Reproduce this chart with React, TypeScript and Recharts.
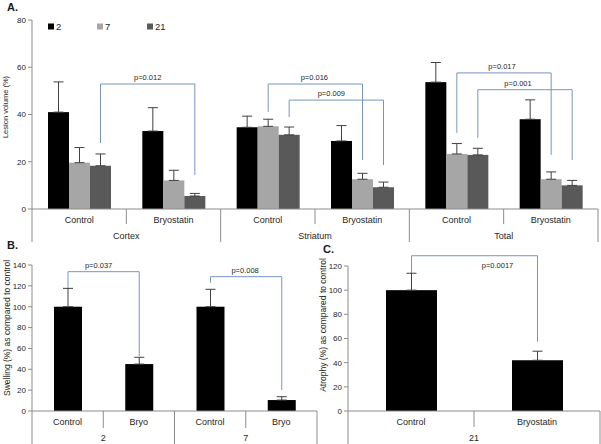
import React from 'react';
import { BarChart, Bar, XAxis, YAxis, ErrorBar } from 'recharts';

// panel A: lesion volume by region, treatment and day
const regions = ['Cortex', 'Striatum', 'Total'];
const treatA = ['Control', 'Bryostatin', 'Control', 'Bryostatin', 'Control', 'Bryostatin'];
const day2 = [41, 33, 34.6, 28.8, 53.7, 38];
const day2Err = [12.8, 9.9, 4.7, 6.5, 8.3, 8.2];
const day7 = [19.6, 12.1, 35, 12.6, 23.3, 12.6];
const day7Err = [6.4, 4.3, 3, 2.5, 4.4, 3.1];
const day21 = [18.3, 5.5, 31.4, 9.2, 22.9, 10];
const day21Err = [5, 1.1, 3.3, 2.2, 2.8, 2.1];
const lesionTicks = [0, 20, 40, 60, 80];

// panel B: swelling
const swellGroups = ['2', '7'];
const treatB = ['Control', 'Bryo', 'Control', 'Bryo'];
const swelling = [100, 45, 100, 10.5];
const swellingErr = [17.6, 6.5, 16.7, 3.2];
const swellTicks = [0, 20, 40, 60, 80, 100, 120, 140];

// panel C: atrophy
const atrophyGroups = ['21'];
const treatC = ['Control', 'Bryostatin'];
const atrophy = [100, 42];
const atrophyErr = [14, 7.5];
const atrophyTicks = [0, 20, 40, 60, 80, 100, 120];

// significance brackets (values in axis units)
const bracketsA = [
  { series: 'd21', from: 0, to: 1, start: 27.9, top: 52.9, end: 14.4, p: 'p=0.012', dx: 0 },
  { series: 'd7', from: 2, to: 3, start: 41.1, top: 52.9, end: 20.7, p: 'p=0.016', dx: -1 },
  { series: 'd21', from: 2, to: 3, start: 38.9, top: 46.1, end: 18.6, p: 'p=0.009', dx: -5 },
  { series: 'd7', from: 4, to: 5, start: 32.2, top: 57.6, end: 22.9, p: 'p=0.017', dx: -2 },
  { series: 'd21', from: 4, to: 5, start: 30.1, top: 50.5, end: 20.7, p: 'p=0.001', dx: -7 },
];
const bracketsB = [
  { series: 'v', from: 0, to: 1, start: 117, top: 133.6, end: 52.7, p: 'p=0.037', dx: -5 },
  { series: 'v', from: 2, to: 3, start: 123, top: 128.8, end: 20.1, p: 'p=0.008', dx: -1 },
];
const bracketsC = [
  { series: 'v', from: 0, to: 1, start: 102.9, top: 128.5, end: 57.4, p: 'p=0.0017', dx: 23, below: true },
];

const FONT = '"Liberation Sans", Arial, sans-serif';
const AXIS = '#8c8c8c';
const TEXT = '#262626';
const BRACKET = '#7894c4';
const COLORS = { d2: '#000000', d7: '#a6a6a6', d21: '#595959', v: '#000000' };

const dataA = treatA.map((t, i) => ({
  treat: t,
  d2: day2[i], d2e: [0, day2Err[i]],
  d7: day7[i], d7e: [0, day7Err[i]],
  d21: day21[i], d21e: [0, day21Err[i]],
}));
const dataB = treatB.map((t, i) => ({ treat: t, v: swelling[i], ve: [0, swellingErr[i]] }));
const dataC = treatC.map((t, i) => ({ treat: t, v: atrophy[i], ve: [0, atrophyErr[i]] }));

const anchors: Record<string, { cx: number; base: number; ppu: number }> = {};

function makeShape(panel: string, series: string, brackets: any[]) {
  return (props: any) => {
    const { x, y, width, height, fill, index, payload } = props;
    const v = payload ? payload[series] : 0;
    const base = y + height;
    anchors[`${panel}-${series}-${index}`] = { cx: x + width / 2, base, ppu: v ? height / v : 0 };
    const br = brackets.find((b) => b.series === series && b.to === index);
    let extra = null;
    if (br) {
      const a = anchors[`${panel}-${series}-${br.from}`];
      if (a) {
        const yOf = (val: number) => a.base - val * a.ppu;
        const x1 = a.cx;
        const x2 = x + width / 2;
        const yt = yOf(br.top);
        extra = (
          <g>
            <path
              d={`M${x1},${yOf(br.start)} V${yt} H${x2} V${yOf(br.end)}`}
              fill="none"
              stroke={BRACKET}
              strokeWidth={1}
            />
            <text
              x={(x1 + x2) / 2 + br.dx}
              y={br.below ? yt + 12 : yt - 4}
              textAnchor="middle"
              fontSize={7.5}
              fill={TEXT}
            >
              {br.p}
            </text>
          </g>
        );
      }
    }
    return (
      <g>
        <rect x={x} y={y} width={width} height={height} fill={fill} />
        {extra}
      </g>
    );
  };
}

function makeTick(groups: string[], step: number, count: number, lay: any) {
  return (props: any) => {
    const { x, y, payload } = props;
    const i = props.index ?? payload.index;
    const left = x - step / 2;
    const first = i % 2 === 0;
    return (
      <g>
        <text x={x} y={y + lay.labelY} textAnchor="middle" fontSize={9} fill={TEXT}>
          {payload.value}
        </text>
        <line x1={left} x2={left} y1={y} y2={y + (first ? lay.longY : lay.shortY)} stroke={AXIS} />
        {first && (
          <text x={x + step / 2} y={y + lay.groupY} textAnchor="middle" fontSize={9} fill={TEXT}>
            {groups[i / 2]}
          </text>
        )}
        {i === count - 1 && (
          <line x1={x + step / 2} x2={x + step / 2} y1={y} y2={y + lay.longY} stroke={AXIS} />
        )}
      </g>
    );
  };
}

function Panel({ id, data, series, groups, ticks, width, height, top, yWidth, right, axisH, barSize, brackets, lay }: any) {
  const step = (width - yWidth - right) / data.length;
  return (
    <BarChart
      width={width}
      height={height}
      data={data}
      margin={{ top, right, bottom: 0, left: 0 }}
      barGap={0}
      barSize={barSize}
    >
      <XAxis
        dataKey="treat"
        interval={0}
        height={axisH}
        tickLine={false}
        tickSize={0}
        tickMargin={0}
        axisLine={{ stroke: AXIS }}
        tick={makeTick(groups, step, data.length, lay)}
      />
      <YAxis
        width={yWidth}
        domain={[ticks[0], ticks[ticks.length - 1]]}
        ticks={ticks}
        interval={0}
        tickSize={4}
        tickMargin={2}
        axisLine={{ stroke: AXIS }}
        tickLine={{ stroke: AXIS }}
        tick={{ fontSize: 8, fill: TEXT }}
      />
      {series.map((s: string) => (
        <Bar
          key={s}
          dataKey={s}
          fill={(COLORS as any)[s]}
          isAnimationActive={false}
          shape={makeShape(id, s, brackets)}
        >
          <ErrorBar dataKey={s + 'e'} width={5} stroke="#404040" strokeWidth={1} direction="y" />
        </Bar>
      ))}
    </BarChart>
  );
}

const legendItems = [
  { key: 'd2', label: '2', x: 48 },
  { key: 'd7', label: '7', x: 97 },
  { key: 'd21', label: '21', x: 147 },
];

export default function App() {
  return (
    <div style={{ position: 'absolute', left: 0, top: 0, width: 601, height: 444, background: '#fff', fontFamily: FONT }}>
      <div style={{ position: 'absolute', left: 0, top: 0 }}>
        <Panel
          id="A"
          data={dataA}
          series={['d2', 'd7', 'd21']}
          groups={regions}
          ticks={lesionTicks}
          width={601}
          height={250}
          top={20}
          yWidth={32}
          right={3}
          axisH={41}
          barSize={21}
          brackets={bracketsA}
          lay={{ labelY: 14, groupY: 30, shortY: 15, longY: 33 }}
        />
      </div>
      <div style={{ position: 'absolute', left: 0, top: 255 }}>
        <Panel
          id="B"
          data={dataB}
          series={['v']}
          groups={swellGroups}
          ticks={swellTicks}
          width={320}
          height={189}
          top={10}
          yWidth={32}
          right={3}
          axisH={33}
          barSize={28}
          brackets={bracketsB}
          lay={{ labelY: 14, groupY: 30, shortY: 17, longY: 33 }}
        />
      </div>
      <div style={{ position: 'absolute', left: 300, top: 255 }}>
        <Panel
          id="C"
          data={dataC}
          series={['v']}
          groups={atrophyGroups}
          ticks={atrophyTicks}
          width={301}
          height={189}
          top={11}
          yWidth={48}
          right={1}
          axisH={33}
          barSize={51}
          brackets={bracketsC}
          lay={{ labelY: 14, groupY: 30, shortY: 16, longY: 33 }}
        />
      </div>
      <svg width={601} height={444} style={{ position: 'absolute', left: 0, top: 0, pointerEvents: 'none' }}>
        <text x={7} y={11} fontSize={11} fontWeight="bold" fill="#1a1a1a">A.</text>
        <text x={7} y={249} fontSize={11} fontWeight="bold" fill="#1a1a1a">B.</text>
        <text x={323} y={253} fontSize={11} fontWeight="bold" fill="#1a1a1a">C.</text>
        <text transform="translate(8,107) rotate(-90)" textAnchor="middle" fontSize={7.5} fill={TEXT}>
          Lesion volume (%)
        </text>
        <text transform="translate(9.5,328) rotate(-90)" textAnchor="middle" fontSize={8.5} fill={TEXT}>
          Swelling (%) as compared to control
        </text>
        <text transform="translate(326,325) rotate(-90)" textAnchor="middle" fontSize={8.5} fill={TEXT}>
          Atrophy (%) as compared to control
        </text>
        {legendItems.map((it) => (
          <g key={it.key}>
            <rect x={it.x} y={23.5} width={6} height={6} fill={(COLORS as any)[it.key]} />
            <text x={it.x + 8} y={29.5} fontSize={9.5} fill={TEXT}>{it.label}</text>
          </g>
        ))}
      </svg>
    </div>
  );
}
